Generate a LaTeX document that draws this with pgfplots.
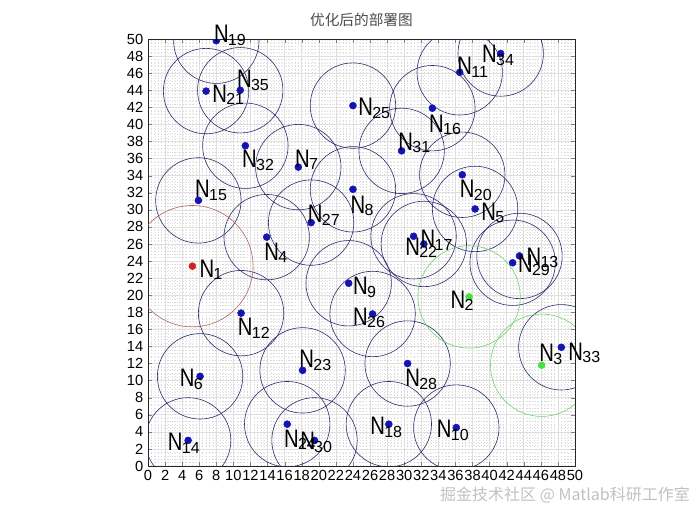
\documentclass[border=0pt]{standalone}
\usepackage{pgfplots}
\pgfplotsset{compat=1.18}
\usepackage{pgfplotstable}
\usepackage{fontspec}
\setmainfont{Liberation Sans}
\newfontfamily\cjk{Noto Sans CJK SC}
\definecolor{nodeblue}{RGB}{20,20,180}
\definecolor{circblue}{RGB}{45,45,110}
\definecolor{nodered}{RGB}{205,35,35}
\definecolor{circred}{RGB}{180,100,100}
\definecolor{nodegreen}{RGB}{70,225,70}
\definecolor{circgreen}{RGB}{110,210,110}
\newcommand\lab[1]{\scalebox{0.8}[1]{\fontsize{19}{19}\selectfont N}\raisebox{-2pt}{\fontsize{12}{12}\selectfont\kern-0.5pt #1}}
\tikzset{lb/.style={anchor=base west, inner sep=0pt}}

\pgfplotstableread{
x y
13.9 26.8
38.3 30.1
6.1 10.5
17.6 35.0
24.0 32.4
23.5 21.4
36.1 4.5
36.5 46.1
10.9 17.9
43.5 24.6
4.7 3.0
5.9 31.1
33.3 41.9
32.3 26.0
28.2 4.9
8.0 49.8
36.8 34.1
6.8 43.9
31.1 26.9
18.1 11.2
16.3 4.9
24.0 42.2
26.3 17.8
19.1 28.5
30.4 12.0
42.7 23.8
19.5 3.0
29.7 36.9
11.4 37.5
48.4 13.9
41.3 48.3
10.8 44.0
}\bluenodes
\pgfplotstableread{
x y
5.2 23.4
}\rednodes
\pgfplotstableread{
x y
37.6 19.8
46.1 11.8
}\greennodes

\begin{document}
\begin{tikzpicture}
\path[use as bounding box] (0,0) rectangle (525pt,393.75pt);
\begin{axis}[
  at={(111pt,44.25pt)}, anchor=south west,
  scale only axis, width=320.25pt, height=320.25pt,
  xmin=0, xmax=50, ymin=0, ymax=50,
  xtick={0,2,...,50}, ytick={0,2,...,50},
  minor tick num=4,
  tick align=inside, major tick length=3pt, minor tick length=0pt,
  xtick pos=both, ytick pos=both,
  grid=both,
  major grid style={gray!25, line width=0.4pt},
  minor grid style={gray!30, dotted, line width=0.3pt},
  axis line style={black!85, line width=0.5pt},
  ticklabel style={font=\fontsize{11}{11}\selectfont},
  /pgf/number format/assume math mode=true,
  clip mode=individual,
  clip marker paths=true,
]
\addplot[only marks, mark=o, mark size=32.03pt, circblue, mark options={line width=0.45pt}] table {\bluenodes};
\addplot[only marks, mark=o, mark size=45.5pt, circred, mark options={line width=0.45pt}] table {\rednodes};
\addplot[only marks, mark=o, mark size=38.4pt, circgreen, mark options={line width=0.45pt}] table {\greennodes};
\addplot[only marks, mark=*, mark size=2.6pt, nodeblue, mark options={draw=nodeblue, fill=nodeblue}] table {\bluenodes};
\addplot[only marks, mark=*, mark size=2.6pt, nodered, mark options={draw=nodered, fill=nodered}] table {\rednodes};
\addplot[only marks, mark=*, mark size=2.6pt, nodegreen, mark options={draw=nodegreen, fill=nodegreen}] table {\greennodes};
\node[lb] at (axis cs:6.0,22.1) {\lab{1}};
\node[lb] at (axis cs:35.4,18.5) {\lab{2}};
\node[lb] at (axis cs:45.8,12.2) {\lab{3}};
\node[lb] at (axis cs:13.6,24.1) {\lab{4}};
\node[lb] at (axis cs:39.0,28.8) {\lab{5}};
\node[lb] at (axis cs:3.7,9.3) {\lab{6}};
\node[lb] at (axis cs:17.2,35.0) {\lab{7}};
\node[lb] at (axis cs:23.7,29.6) {\lab{8}};
\node[lb] at (axis cs:24.0,20.1) {\lab{9}};
\node[lb] at (axis cs:33.8,3.3) {\lab{10}};
\node[lb] at (axis cs:36.2,45.8) {\lab{11}};
\node[lb] at (axis cs:10.5,15.3) {\lab{12}};
\node[lb] at (axis cs:44.3,23.5) {\lab{13}};
\node[lb] at (axis cs:2.3,1.8) {\lab{14}};
\node[lb] at (axis cs:5.5,31.4) {\lab{15}};
\node[lb] at (axis cs:32.9,39.1) {\lab{16}};
\node[lb] at (axis cs:31.9,25.6) {\lab{17}};
\node[lb] at (axis cs:26.0,3.7) {\lab{18}};
\node[lb] at (axis cs:7.7,49.6) {\lab{19}};
\node[lb] at (axis cs:36.5,31.4) {\lab{20}};
\node[lb] at (axis cs:7.5,42.6) {\lab{21}};
\node[lb] at (axis cs:30.1,24.7) {\lab{22}};
\node[lb] at (axis cs:17.7,11.5) {\lab{23}};
\node[lb] at (axis cs:15.9,2.2) {\lab{24}};
\node[lb] at (axis cs:24.6,41.0) {\lab{25}};
\node[lb] at (axis cs:24.0,16.5) {\lab{26}};
\node[lb] at (axis cs:18.7,28.5) {\lab{27}};
\node[lb] at (axis cs:30.1,9.3) {\lab{28}};
\node[lb] at (axis cs:43.3,22.6) {\lab{29}};
\node[lb] at (axis cs:17.8,1.9) {\lab{30}};
\node[lb] at (axis cs:29.3,37.0) {\lab{31}};
\node[lb] at (axis cs:11.0,34.9) {\lab{32}};
\node[lb] at (axis cs:49.2,12.4) {\lab{33}};
\node[lb] at (axis cs:39.1,47.2) {\lab{34}};
\node[lb] at (axis cs:10.4,44.3) {\lab{35}};
\end{axis}
\node[font=\cjk\fontsize{11}{11}\selectfont, text=black!70] at (271.1pt,378.75pt) {优化后的部署图};
\node[font=\cjk\fontsize{12}{12}\selectfont, text=gray!60, opacity=0.8] at (423.75pt,22.5pt) {掘金技术社区 @ Matlab科研工作室};
\end{tikzpicture}
\end{document}
